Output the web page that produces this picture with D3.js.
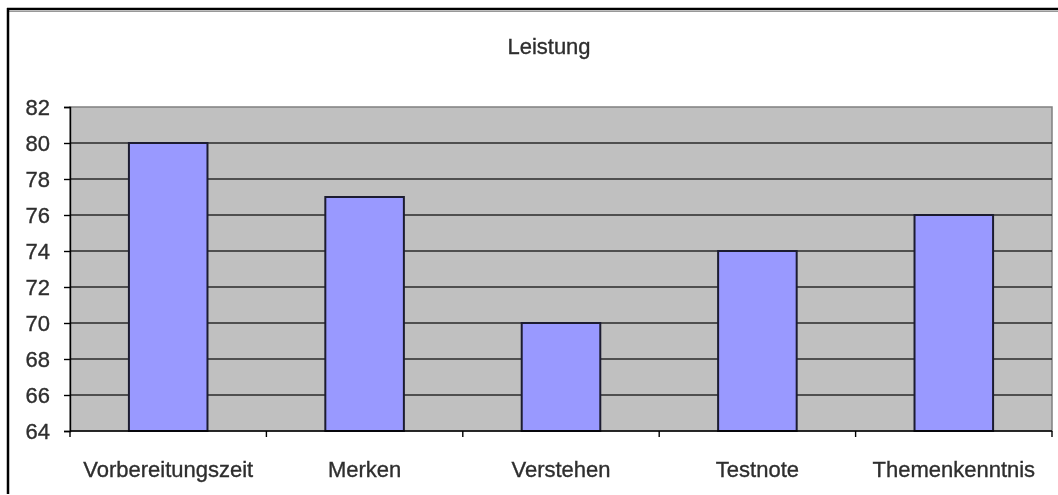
<!DOCTYPE html>
<html>
<head>
<meta charset="utf-8">
<script src="https://cdn.jsdelivr.net/npm/d3@7"></script>
<style>
  html, body { margin: 0; padding: 0; background: #fff; }
  svg { display: block; font-family: Arial, "Liberation Sans", sans-serif; }
</style>
</head>
<body>
<svg id="chart" width="1058" height="495"></svg>
<script>
// Chart data
const title = "Leistung";
const categories = ["Vorbereitungszeit", "Merken", "Verstehen", "Testnote", "Themenkenntnis"];
const values = [80, 77, 70, 74, 76];
const yTicks = [64, 66, 68, 70, 72, 74, 76, 78, 80, 82];

const svg = d3.select("#chart");
const W = 1058, H = 495;
const plot = { left: 70, top: 107, right: 1052, bottom: 431 };
const FONT = "Arial, 'Liberation Sans', sans-serif";
const TEXT_COLOR = "#2e2e2e";

// Soft edge for the text
const defs = svg.append("defs");
defs.append("filter").attr("id", "soft")
  .append("feGaussianBlur").attr("stdDeviation", 0.45);

function styleText(sel) {
  sel.attr("font-size", 22).attr("font-family", FONT)
    .attr("fill", TEXT_COLOR).attr("stroke", TEXT_COLOR).attr("stroke-width", 0.35)
    .attr("filter", "url(#soft)");
}

// Outer frame
svg.append("rect").attr("x", 0).attr("y", 0).attr("width", W).attr("height", H).attr("fill", "#fff");
svg.append("line").attr("x1", 7).attr("x2", W).attr("y1", 9).attr("y2", 9)
  .attr("stroke", "#000").attr("stroke-width", 2.5);
svg.append("line").attr("x1", 9).attr("x2", W).attr("y1", 11.5).attr("y2", 11.5)
  .attr("stroke", "#999").attr("stroke-width", 1);
svg.append("line").attr("x1", 8).attr("x2", 8).attr("y1", 8).attr("y2", 494)
  .attr("stroke", "#000").attr("stroke-width", 2.5);

// Scales
const x = d3.scaleBand().domain(categories).range([plot.left, plot.right]).paddingInner(0).paddingOuter(0);
const y = d3.scaleLinear().domain([64, 82]).range([plot.bottom, plot.top]);

// Plot area
svg.append("rect")
  .attr("x", plot.left).attr("y", plot.top)
  .attr("width", plot.right - plot.left).attr("height", plot.bottom - plot.top)
  .attr("fill", "#c0c0c0").attr("stroke", "#808080").attr("stroke-width", 1.5);

// Gridlines
svg.append("g").selectAll("line")
  .data(yTicks.filter(t => t > 64 && t < 82))
  .join("line")
  .attr("x1", plot.left).attr("x2", plot.right)
  .attr("y1", d => y(d)).attr("y2", d => y(d))
  .attr("stroke", "#2a2a2a").attr("stroke-width", 1.4);

// Bars
const barW = x.bandwidth() / 2.5;
svg.append("g").selectAll("rect")
  .data(values)
  .join("rect")
  .attr("x", (d, i) => x(categories[i]) + (x.bandwidth() - barW) / 2)
  .attr("y", d => y(d))
  .attr("width", barW)
  .attr("height", d => y(64) - y(d))
  .attr("fill", "#9999ff")
  .attr("stroke", "#1c1c30").attr("stroke-width", 2);

// Y axis
const yAxis = d3.axisLeft(y).tickValues(yTicks).tickSize(6).tickPadding(14).tickFormat(d3.format("d"));
const gy = svg.append("g").attr("transform", `translate(${plot.left},0)`).call(yAxis);
gy.select(".domain").attr("stroke", "#000").attr("stroke-width", 1.4);
gy.selectAll(".tick line").attr("stroke", "#000").attr("stroke-width", 1.4);
gy.selectAll(".tick text").call(styleText);

// X axis (ticks at category boundaries)
const gx = svg.append("g").attr("transform", `translate(0,${plot.bottom})`);
gx.append("line").attr("x1", plot.left).attr("x2", plot.right).attr("y1", 0).attr("y2", 0)
  .attr("stroke", "#000").attr("stroke-width", 1.4);
const boundaries = categories.map(c => x(c)).concat([plot.right]);
gx.selectAll("line.tick").data(boundaries).join("line").attr("class", "tick")
  .attr("x1", d => d).attr("x2", d => d).attr("y1", 0).attr("y2", 6)
  .attr("stroke", "#000").attr("stroke-width", 1.4);
gx.selectAll("text").data(categories).join("text")
  .attr("x", d => x(d) + x.bandwidth() / 2).attr("y", 46)
  .attr("text-anchor", "middle")
  .call(styleText)
  .text(d => d);

// Title
svg.append("text").attr("x", 549).attr("y", 54).attr("text-anchor", "middle")
  .call(styleText).text(title);
</script>
</body>
</html>
